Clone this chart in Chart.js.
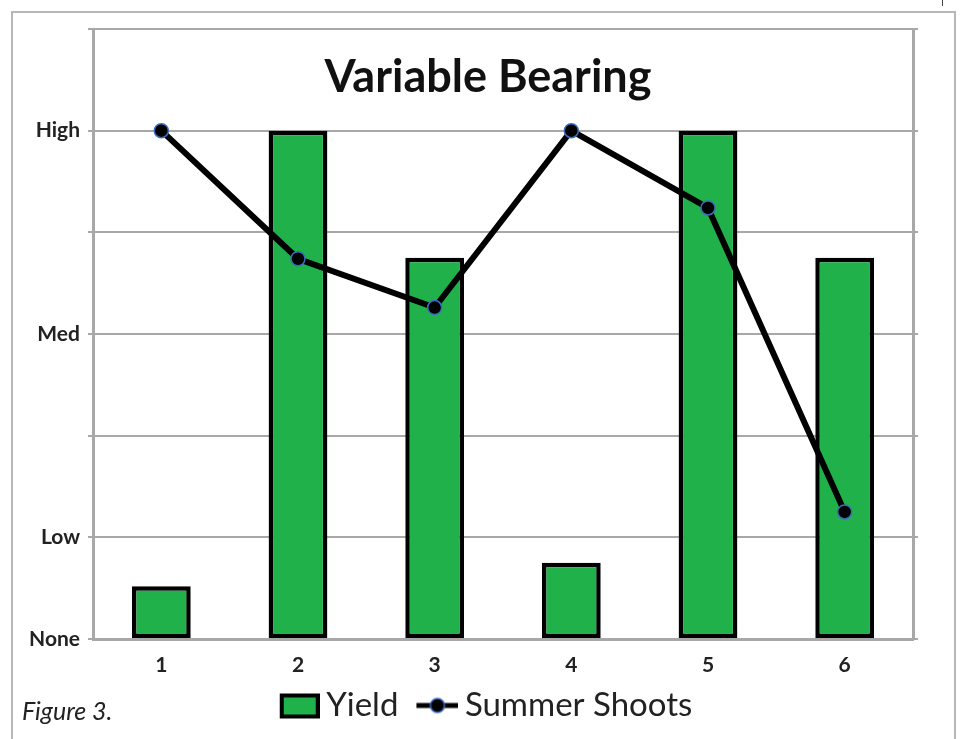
<!DOCTYPE html>
<html>
<head>
<meta charset="utf-8">
<script src="https://cdn.jsdelivr.net/npm/chart.js@4.4.1/dist/chart.umd.min.js"></script>
<style>
  body { margin: 0; background: #fff; }
  #wrap { position: relative; width: 962px; height: 739px; overflow: hidden; }
  #frame { position: absolute; left: 11px; top: 11px; width: 941px; height: 760px; border: 2px solid #b8b8b8; }
  #corner { position: absolute; left: 942px; top: 0; width: 1px; height: 6px; background: #444; }
  #fig { position: absolute; left: 22px; top: 698px; font: italic 25px Lato; line-height: 1; color: #222; }
  canvas { position: absolute; left: 0; top: 0; }
</style>
</head>
<body>
<div id="wrap">
  <div id="frame"></div>
  <div id="corner"></div>
  <canvas id="chart" width="962" height="739"></canvas>
  <div id="fig">Figure 3.</div>
</div>
<script>
const categories = ['1', '2', '3', '4', '5', '6'];
const yieldValues = [0.52, 5, 3.75, 0.75, 5, 3.75];
const shootValues = [5, 3.74, 3.26, 5, 4.24, 1.25];
// value axis runs 0..6, only some steps carry a label
const levelLabels = ['None', 'Low', '', 'Med', '', 'High', ''];

const GREEN = '#21b14b';
const GRID = '#a8a8a8';

// legend icons, drawn on the right part of a wider canvas so the text sits close
function legendIcon(draw) {
    const c = document.createElement('canvas');
    c.width = 60;
    c.height = 30;
    draw(c.getContext('2d'));
    return c;
}

const yieldIcon = legendIcon(ctx => {
    ctx.fillStyle = GREEN;
    ctx.fillRect(22, 5, 36, 21);
    ctx.strokeStyle = '#000';
    ctx.lineWidth = 4;
    ctx.strokeRect(22, 5, 36, 21);
});

const shootIcon = legendIcon(ctx => {
    ctx.strokeStyle = '#000';
    ctx.lineWidth = 5;
    ctx.beginPath();
    ctx.moveTo(18, 15);
    ctx.lineTo(60, 15);
    ctx.stroke();
    ctx.beginPath();
    ctx.arc(39, 15, 7, 0, Math.PI * 2);
    ctx.fillStyle = '#000';
    ctx.fill();
    ctx.lineWidth = 1.5;
    ctx.strokeStyle = '#3b6cc0';
    ctx.stroke();
});

const innerTitle = {
    id: 'innerTitle',
    afterDraw(chart) {
        const ctx = chart.ctx;
        ctx.save();
        ctx.font = 'bold 45px Lato';
        ctx.fillStyle = '#111';
        ctx.textAlign = 'center';
        ctx.textBaseline = 'alphabetic';
        ctx.fillText('Variable Bearing', 488, 92);
        ctx.restore();
    }
};

const tickFont = { family: 'Lato', weight: 'bold', size: 21 };

new Chart(document.getElementById('chart'), {
    type: 'bar',
    data: {
        labels: categories,
        datasets: [
            {
                type: 'line',
                label: 'Summer Shoots',
                data: shootValues,
                order: 1,
                borderColor: '#000',
                borderWidth: 6,
                pointRadius: 7,
                pointBackgroundColor: '#000',
                pointBorderColor: '#3b6cc0',
                pointBorderWidth: 1.5,
                tension: 0
            },
            {
                type: 'bar',
                label: 'Yield',
                data: yieldValues,
                order: 2,
                backgroundColor: GREEN,
                borderColor: '#000',
                borderWidth: 4.5,
                borderSkipped: false,
                barPercentage: 0.43,
                categoryPercentage: 1
            }
        ]
    },
    options: {
        responsive: false,
        animation: false,
        layout: { padding: { top: 29, bottom: 7, left: 0, right: 0 } },
        plugins: {
            title: { display: false },
            tooltip: { enabled: false },
            legend: {
                position: 'bottom',
                labels: {
                    usePointStyle: true,
                    pointStyleWidth: 40,
                    boxHeight: 30,
                    padding: 10,
                    color: '#222',
                    font: { family: 'Lato', size: 33 },
                    generateLabels: () => [
                        { text: 'Yield', pointStyle: yieldIcon, datasetIndex: 1, hidden: false, fontColor: '#222', lineWidth: 0 },
                        { text: 'Summer Shoots', pointStyle: shootIcon, datasetIndex: 0, hidden: false, fontColor: '#222', lineWidth: 0 }
                    ]
                }
            }
        },
        scales: {
            x: {
                grid: { display: false, drawTicks: false },
                border: { color: GRID, width: 3 },
                ticks: { font: tickFont, color: '#222', padding: 14 },
                afterFit: s => { s.height = 40; }
            },
            y: {
                min: 0,
                max: 6,
                ticks: {
                    stepSize: 1,
                    font: tickFont,
                    color: '#222',
                    padding: 8,
                    callback: v => levelLabels[v]
                },
                grid: { color: GRID, lineWidth: 2, tickLength: 5 },
                border: { color: GRID, width: 3 },
                afterFit: s => { s.width = 93; }
            },
            y2: {
                position: 'right',
                min: 0,
                max: 6,
                ticks: { display: false, stepSize: 1 },
                grid: { drawOnChartArea: false, color: GRID, lineWidth: 2, tickLength: 5 },
                border: { color: GRID, width: 3 },
                afterFit: s => { s.width = 49; }
            }
        }
    },
    plugins: [innerTitle]
});
</script>
</body>
</html>
